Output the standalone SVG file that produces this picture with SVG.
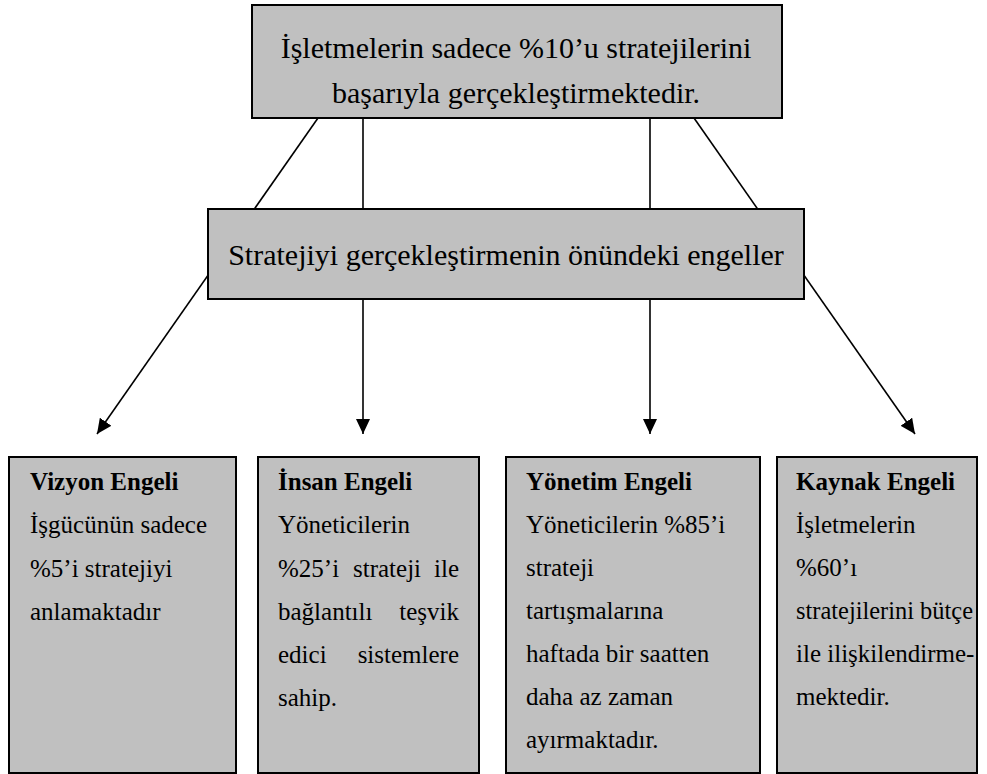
<svg xmlns="http://www.w3.org/2000/svg" width="987" height="774" viewBox="0 0 987 774">
  <style>
    .box { fill: #c0c0c0; stroke: #000; stroke-width: 2; }
    .link { stroke: #000; stroke-width: 1.6; fill: none; }
    text { font-family: "Liberation Serif", "Times New Roman", serif; fill: #000; }
    .big { font-size: 30px; text-anchor: middle; }
    .body { font-size: 25px; }
    .title { font-weight: bold; }
    .end { text-anchor: end; }
  </style>
  <defs>
    <marker id="arrow" markerUnits="userSpaceOnUse" markerWidth="15" markerHeight="14" refX="15" refY="7" orient="auto">
      <path d="M0,0 L15,7 L0,14 z" fill="#000"/>
    </marker>
  </defs>
  <rect width="987" height="774" fill="#fff"/>

  <!-- connectors: drawn first so the boxes sit on top of them -->
  <g id="connectors">
    <line class="link" x1="318" y1="118" x2="97" y2="434" marker-end="url(#arrow)"/>
    <line class="link" x1="363" y1="118" x2="363" y2="434" marker-end="url(#arrow)"/>
    <line class="link" x1="650" y1="118" x2="650" y2="434" marker-end="url(#arrow)"/>
    <line class="link" x1="694" y1="118" x2="915" y2="434" marker-end="url(#arrow)"/>
  </g>

  <g id="top">
    <rect class="box" x="252" y="5" width="530" height="113"/>
    <text class="big" x="516" y="58">İşletmelerin sadece %10’u stratejilerini</text>
    <text class="big" x="516" y="103">başarıyla gerçekleştirmektedir.</text>
  </g>

  <g id="obstacles">
    <rect class="box" x="208" y="209" width="596" height="90"/>
    <text class="big" x="506" y="265">Stratejiyi gerçekleştirmenin önündeki engeller</text>
  </g>

  <g id="vision">
    <rect class="box" x="9" y="457" width="227" height="316"/>
    <text class="body title" x="30" y="490">Vizyon Engeli</text>
    <text class="body" x="30" y="533">İşgücünün sadece</text>
    <text class="body" x="30" y="577">%5’i stratejiyi</text>
    <text class="body" x="30" y="620">anlamaktadır</text>
  </g>

  <!-- justified paragraph: words placed flush left / flush right -->
  <g id="people">
    <rect class="box" x="258" y="457" width="221" height="316"/>
    <text class="body title" x="278" y="490">İnsan Engeli</text>
    <text class="body" x="278" y="533">Yöneticilerin</text>
    <text class="body" x="278" y="577">%25’i</text>
    <text class="body" x="353" y="577">strateji</text>
    <text class="body end" x="459" y="577">ile</text>
    <text class="body" x="278" y="620">bağlantılı</text>
    <text class="body end" x="459" y="620">teşvik</text>
    <text class="body" x="278" y="663">edici</text>
    <text class="body end" x="459" y="663">sistemlere</text>
    <text class="body" x="278" y="706">sahip.</text>
  </g>

  <g id="management">
    <rect class="box" x="506" y="457" width="254" height="316"/>
    <text class="body title" x="526" y="490">Yönetim Engeli</text>
    <text class="body" x="526" y="533">Yöneticilerin %85’i</text>
    <text class="body" x="526" y="576">strateji</text>
    <text class="body" x="526" y="619">tartışmalarına</text>
    <text class="body" x="526" y="662">haftada bir saatten</text>
    <text class="body" x="526" y="705">daha az zaman</text>
    <text class="body" x="526" y="748">ayırmaktadır.</text>
  </g>

  <g id="resource">
    <rect class="box" x="777" y="457" width="200" height="316"/>
    <text class="body title" x="796" y="490">Kaynak Engeli</text>
    <text class="body" x="796" y="533">İşletmelerin</text>
    <text class="body" x="796" y="576">%60’ı</text>
    <text class="body" x="796" y="619" textLength="177" lengthAdjust="spacingAndGlyphs">stratejilerini bütçe</text>
    <text class="body" x="796" y="662">ile ilişkilendirme-</text>
    <text class="body" x="796" y="705">mektedir.</text>
  </g>
</svg>
